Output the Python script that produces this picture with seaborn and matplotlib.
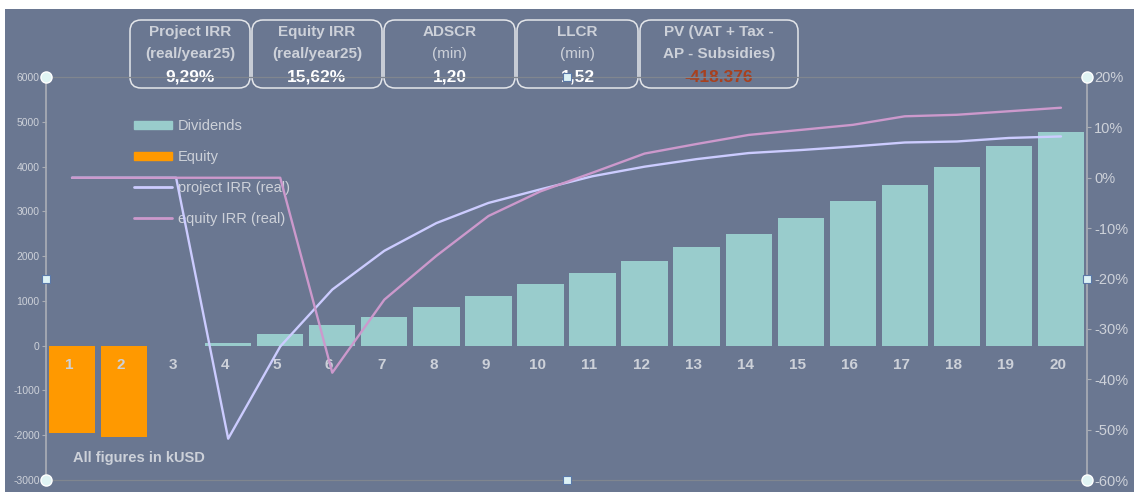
import matplotlib
matplotlib.use("Agg")
import matplotlib.pyplot as plt
from matplotlib.patches import FancyBboxPatch, Rectangle
from matplotlib.lines import Line2D
import seaborn as sns
import pandas as pd
import numpy as np

# --- data ------------------------------------------------------------------
years = list(range(1, 21))
dividends = [0, 0, 0, 65, 270, 470, 630, 860, 1100, 1370,
             1630, 1900, 2210, 2500, 2860, 3240, 3590, 4000, 4460, 4780]
equity = [-1950, -2050, 0, 0, 0, 0, 0, 0, 0, 0,
          0, 0, 0, 0, 0, 0, 0, 0, 0, 0]
# IRR curves in percent
project_irr = [0, 0, 0, -51.8, -33.5, -22.2, -14.5, -9.0, -5.0, -2.3,
               0.3, 2.2, 3.7, 4.9, 5.5, 6.2, 7.0, 7.2, 7.9, 8.2]
equity_irr = [0, 0, 0, 0, 0, -38.7, -24.2, -15.5, -7.6, -2.7,
              1.0, 4.8, 6.7, 8.5, 9.5, 10.5, 12.2, 12.5, 13.2, 13.9]

left_ticks = list(range(-3000, 6001, 1000))
right_ticks = [-60, -50, -40, -30, -20, -10, 0, 10, 20]

series_labels = ["Dividends", "Equity", "project IRR (real)", "equity IRR (real)"]
kpi_titles = ["Project IRR", "Equity IRR", "ADSCR", "LLCR", "PV (VAT + Tax -"]
kpi_subtitles = ["(real/year25)", "(real/year25)", "(min)", "(min)", "AP - Subsidies)"]
kpi_values = ["9,29%", "15,62%", "1,20", "1,52", "-418.376"]

# --- style -------------------------------------------------------------------
sns.set_theme(style="white")
plt.rcParams["font.family"] = ["Liberation Sans", "DejaVu Sans"]

BG = "#6A7791"
TEAL = "#99CCCC"
ORANGE = "#FF9900"
LAVENDER = "#CCCCFF"
PINK = "#CC99CC"
AXIS = "#A9ADB5"
FRAME = "#80868F"
TXT = "#CDD1D9"

W, H = 1134, 496
fig = plt.figure(figsize=(W / 100, H / 100), dpi=100, facecolor="white")
fig.add_artist(Rectangle((5 / W, 4 / H), 1, (492 - 9) / H, transform=fig.transFigure,
                         facecolor=BG, edgecolor="none", zorder=-10))

# overlay in pixel units for the KPI boxes (behind the chart)
ov = fig.add_axes([0, 0, 1, 1], zorder=-1)
ov.set_xlim(0, W)
ov.set_ylim(H, 0)
ov.axis("off")
ov.patch.set_alpha(0)

box_edges = [129, 251, 383, 516, 639, 799]
for i in range(len(kpi_titles)):
    x0, x1 = box_edges[i], box_edges[i + 1]
    ov.add_patch(FancyBboxPatch((x0 + 1, 20), x1 - x0 - 2, 68,
                                boxstyle="round,pad=0,rounding_size=11",
                                facecolor="none", edgecolor="#E4E6EA", lw=1.1))
    xc = (x0 + x1) / 2
    ov.text(xc, 32, kpi_titles[i], ha="center", va="center", fontsize=11,
            weight="bold", color=TXT)
    sub_weight = "normal" if kpi_subtitles[i] == "(min)" else "bold"
    ov.text(xc, 54, kpi_subtitles[i], ha="center", va="center", fontsize=11,
            weight=sub_weight, color=TXT)
    val_color = "#A8401E" if kpi_values[i].startswith("-") else "white"
    ov.text(xc, 77, kpi_values[i], ha="center", va="center", fontsize=12.5,
            weight="bold", color=val_color)

# --- main chart ---------------------------------------------------------------
ax = fig.add_axes([46 / W, 1 - 480 / H, (1087 - 46) / W, (480 - 77) / H])
ax.set_facecolor("none")

df = pd.DataFrame({"year": years, "dividends": dividends, "equity": equity,
                   "project": np.array(project_irr) / 100,
                   "equity_irr": np.array(equity_irr) / 100})

sns.barplot(data=df, x="year", y="dividends", color=TEAL, saturation=1,
            width=0.89, native_scale=True, linewidth=0, ax=ax)
sns.barplot(data=df, x="year", y="equity", color=ORANGE, saturation=1,
            width=0.89, native_scale=True, linewidth=0, ax=ax)

ax2 = ax.twinx()
sns.lineplot(data=df, x="year", y="project", color=LAVENDER, lw=1.7, ax=ax2)
sns.lineplot(data=df, x="year", y="equity_irr", color=PINK, lw=1.7, ax=ax2)

for a in (ax, ax2):
    if a.get_legend() is not None:
        a.get_legend().remove()
    a.grid(False)
    a.set_xlabel("")
    a.set_ylabel("")

ax.set_xlim(0.5, 20.5)
ax.set_ylim(-3000, 6000)
ax.set_yticks(left_ticks)
ax.set_yticklabels([str(v) for v in left_ticks])
ax.set_xticks([])
ax.tick_params(axis="y", left=True, length=3, width=0.8, color=AXIS,
               labelsize=7.5, labelcolor=TXT, pad=1.5)

ax2.set_ylim(-0.6, 0.2)
ax2.set_yticks([v / 100 for v in right_ticks])
ax2.set_yticklabels([f"{v}%" for v in right_ticks])
ax2.tick_params(axis="y", right=True, length=3, width=0.8, color=AXIS,
                labelsize=10.5, labelcolor=TXT, pad=2)

for s in ("left", "right", "top", "bottom"):
    ax.spines[s].set_visible(False)
    ax2.spines[s].set_visible(False)
ax.spines["left"].set_visible(True)
ax.spines["left"].set_color(AXIS)
ax2.spines["right"].set_visible(True)
ax2.spines["right"].set_color(AXIS)
for s in ("top", "bottom"):
    ax.spines[s].set_visible(True)
    ax.spines[s].set_color(FRAME)
    ax.spines[s].set_linewidth(0.9)

# category labels just under the zero line
for yr in years:
    ax.text(yr - 0.06, -440, str(yr), ha="center", va="center",
            fontsize=11, weight="bold", color=TXT)

ax.text(0.026, 0.055, "All figures in kUSD", transform=ax.transAxes,
        ha="left", va="center", fontsize=10.5, weight="bold", color=TXT)

handles = [Rectangle((0, 0), 1, 1, color=TEAL), Rectangle((0, 0), 1, 1, color=ORANGE),
           Line2D([], [], color=LAVENDER, lw=2), Line2D([], [], color=PINK, lw=2)]
ax.legend(handles, series_labels, loc="upper left", bbox_to_anchor=(0.0845, 0.895),
          frameon=False, fontsize=10.5, labelcolor=TXT, handlelength=2.6,
          handleheight=0.5, handletextpad=0.4, labelspacing=1.16,
          borderpad=0, borderaxespad=0)

# selection handles from the screenshot
ax2.plot([0, 0, 1, 1], [0, 1, 0, 1], "o", transform=ax2.transAxes, ms=8,
         mfc="#E0F4F4", mec="white", mew=1, clip_on=False, zorder=10)
ax2.plot([0, 1, 0.5, 0.5], [0.5, 0.5, 0, 1], "s", transform=ax2.transAxes, ms=5.5,
         mfc="#DDF2F6", mec="#5A78A8", mew=0.8, clip_on=False, zorder=10)

fig.savefig("out.png", dpi=100, facecolor=fig.get_facecolor())
